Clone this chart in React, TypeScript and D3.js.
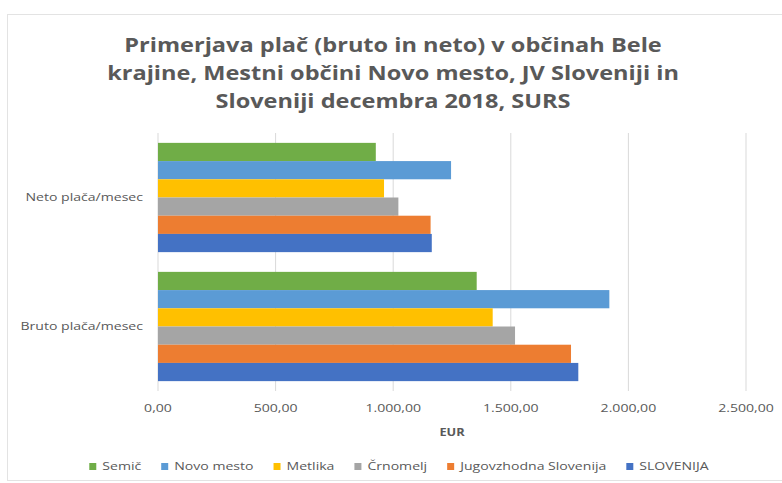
import React, { useEffect, useRef } from "react";
import * as d3 from "d3";

const titleLines = [
  "Primerjava plač (bruto in neto) v občinah Bele",
  "krajine, Mestni občini Novo mesto, JV Sloveniji in",
  "Sloveniji decembra 2018, SURS",
];
const categories = ["Neto plača/mesec", "Bruto plača/mesec"];
const seriesNames = ["Semič", "Novo mesto", "Metlika", "Črnomelj", "Jugovzhodna Slovenija", "SLOVENIJA"];
const seriesColors = ["#70AD47", "#5B9BD5", "#FFC000", "#A5A5A5", "#ED7D31", "#4472C4"];
const netoValues = [926, 1246, 961, 1022, 1159, 1164];
const brutoValues = [1355, 1919, 1423, 1518, 1756, 1787];
const xTicks = [0, 500, 1000, 1500, 2000, 2500];
const xAxisTitle = "EUR";

const W = 782;
const H = 483;
const FONT = "'Open Sans', 'Noto Sans', sans-serif";
const SX = 1.28;

export default function App() {
  const ref = useRef<SVGSVGElement>(null);

  useEffect(() => {
    const svg = d3.select(ref.current);
    svg.selectAll("*").remove();

    svg.append("rect").attr("width", W).attr("height", H).attr("fill", "#fff");
    svg.append("rect")
      .attr("x", 7.5).attr("y", 14.5).attr("width", W + 10).attr("height", 466)
      .attr("fill", "none").attr("stroke", "#e3e3e3").attr("stroke-width", 1);

    // Title
    titleLines.forEach((l, i) => {
      svg.append("text")
        .attr("transform", `translate(393,${52 + i * 28}) scale(1.24,1)`)
        .attr("text-anchor", "middle")
        .attr("font-family", FONT)
        .attr("font-weight", "bold")
        .attr("font-size", 19)
        .attr("fill", "#595959")
        .text(l);
    });

    const left = 158, right = 746, top = 133, bottom = 391;
    const x = d3.scaleLinear().domain([0, 2500]).range([left, right]);
    const y = d3.scaleBand<string>().domain(categories).range([top, bottom]).paddingInner(0.153).paddingOuter(0.0765);
    const ySub = d3.scaleBand<string>().domain(seriesNames).range([0, y.bandwidth()]);

    // grid
    svg.append("g").selectAll("line").data(xTicks).join("line")
      .attr("x1", (d) => x(d)).attr("x2", (d) => x(d))
      .attr("y1", top).attr("y2", bottom)
      .attr("stroke", "#d9d9d9").attr("stroke-width", 1);

    const data = [netoValues, brutoValues];
    categories.forEach((c, ci) => {
      svg.append("g").selectAll("rect").data(seriesNames).join("rect")
        .attr("x", x(0))
        .attr("y", (s) => (y(c) as number) + (ySub(s) as number))
        .attr("width", (s, i) => x(data[ci][i]) - x(0))
        .attr("height", ySub.bandwidth())
        .attr("fill", (s, i) => seriesColors[i]);
    });

    // category labels
    svg.append("g").selectAll("text").data(categories).join("text")
      .attr("transform", (c) => `translate(143,${(y(c) as number) + y.bandwidth() / 2}) scale(${SX},1)`)
      .attr("dy", "0.35em")
      .attr("text-anchor", "end")
      .attr("font-family", FONT)
      .attr("font-size", 11)
      .attr("fill", "#595959")
      .text((c) => c);

    // tick labels
    const fmt = (v: number) => {
      const s = d3.format(",.2f")(v);
      return s.replace(/,/g, "#").replace(".", ",").replace(/#/g, ".");
    };
    svg.append("g").selectAll("text").data(xTicks).join("text")
      .attr("transform", (d) => `translate(${x(d)},412) scale(${SX},1)`)
      .attr("text-anchor", "middle")
      .attr("font-family", FONT)
      .attr("font-size", 11)
      .attr("fill", "#595959")
      .text((d) => fmt(d));

    svg.append("text")
      .attr("transform", `translate(${(left + right) / 2},436) scale(${SX},1)`)
      .attr("text-anchor", "middle")
      .attr("font-family", FONT)
      .attr("font-weight", "bold")
      .attr("font-size", 10)
      .attr("fill", "#595959")
      .text(xAxisTitle);

    // legend
    const lg = svg.append("g");
    const items = seriesNames.map((n, i) => {
      const g = lg.append("g");
      g.append("rect").attr("x", 0).attr("y", -7).attr("width", 7).attr("height", 7).attr("fill", seriesColors[i]);
      const t = g.append("text").attr("transform", `translate(13,0) scale(${SX},1)`)
        .attr("font-family", FONT).attr("font-size", 11).attr("fill", "#595959").text(n);
      const w = 13 + SX * (t.node() as SVGTextElement).getComputedTextLength();
      return { g, w };
    });
    const gap = 20;
    const total = items.reduce((a, b) => a + b.w, 0) + gap * (items.length - 1);
    let cx = 399 - total / 2;
    items.forEach((it) => {
      it.g.attr("transform", `translate(${cx},${470})`);
      cx += it.w + gap;
    });
  }, []);

  return (
    <svg ref={ref} width={W} height={H} style={{ position: "absolute", left: 0, top: 0 }} />
  );
}
